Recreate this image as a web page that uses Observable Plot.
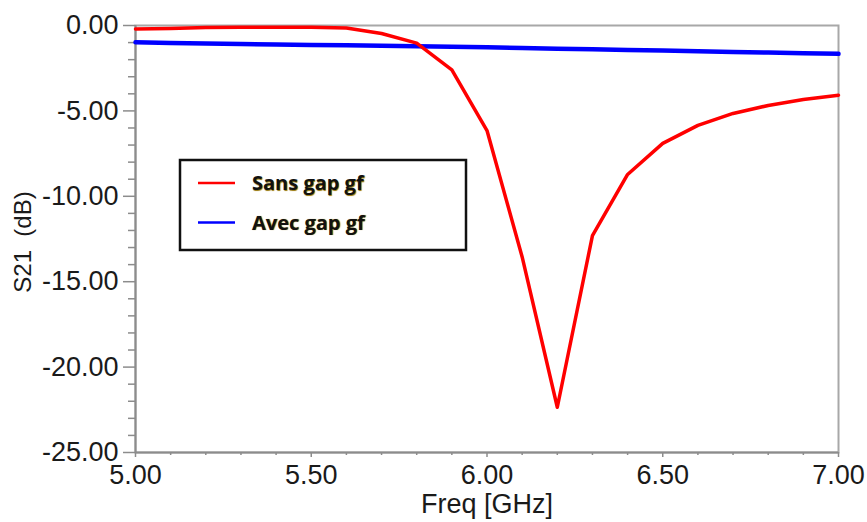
<!DOCTYPE html>
<html>
<head>
<meta charset="utf-8">
<script src="https://cdn.jsdelivr.net/npm/d3@7"></script>
<script src="https://cdn.jsdelivr.net/npm/@observablehq/plot@0.6"></script>
<style>
  html, body { margin: 0; padding: 0; background: #fff; }
  #wrap { position: relative; width: 867px; height: 522px; }
  #legend { position: absolute; left: 0; top: 0; pointer-events: none; }
</style>
</head>
<body>
<div id="wrap"></div>
<script>
// ---- data ----
const freq = [5.0, 5.1, 5.2, 5.3, 5.4, 5.5, 5.6, 5.7, 5.8, 5.9, 6.0, 6.1, 6.2, 6.3, 6.4, 6.5, 6.6, 6.7, 6.8, 6.9, 7.0];
const sansGap = [-0.2, -0.18, -0.12, -0.1, -0.1, -0.1, -0.15, -0.47, -1.03, -2.6, -6.15, -13.55, -22.35, -12.3, -8.72, -6.9, -5.85, -5.15, -4.68, -4.33, -4.08];
const avecGap = [-0.98, -1.02, -1.05, -1.08, -1.11, -1.14, -1.16, -1.18, -1.21, -1.24, -1.28, -1.32, -1.36, -1.39, -1.43, -1.47, -1.51, -1.55, -1.58, -1.62, -1.66];
const seriesNames = ["Sans gap gf", "Avec gap gf"];
const seriesColors = ["#ff0000", "#0000ff"];
const xMajorTicks = [5.0, 5.5, 6.0, 6.5, 7.0];
const yMajorTicks = [0, -5, -10, -15, -20, -25];
const xLabel = "Freq [GHz]";
const yLabel = "S21\u00a0 (dB)";

// minor tick positions (every 0.1 GHz, every 1 dB)
const xMinorTicks = d3.range(50, 71).map(d => d / 10).filter(d => !xMajorTicks.includes(d));
const yMinorTicks = d3.range(-25, 1).filter(d => !yMajorTicks.includes(d));

const sansData = freq.map((f, i) => ({f, db: sansGap[i]}));
const avecData = freq.map((f, i) => ({f, db: avecGap[i]}));

const axisColor = "#8c8c8c";
const textColor = "#1a1a1a";

const chart = Plot.plot({
  width: 867,
  height: 522,
  marginLeft: 135,
  marginTop: 25,
  marginRight: 29,
  marginBottom: 70,
  x: {domain: [5, 7]},
  y: {domain: [-25, 0]},
  style: {fontFamily: "'Liberation Sans', Arial, sans-serif", fontSize: "27px", color: textColor, background: "#fff"},
  marks: [
    Plot.frame({stroke: "#a8a8a8", strokeWidth: 2}),
    Plot.ruleX([5], {stroke: axisColor, strokeWidth: 2}),
    Plot.ruleY([-25], {stroke: axisColor, strokeWidth: 2}),
    Plot.axisX({ticks: xMinorTicks, tickSize: 3, tickFormat: () => "", stroke: axisColor, strokeWidth: 1.5, label: null}),
    Plot.axisX({ticks: xMajorTicks, tickSize: 5, tickPadding: 7, tickFormat: d => d.toFixed(2), stroke: axisColor, strokeWidth: 1.5, fontSize: 27, fill: textColor, label: null}),
    Plot.axisY({ticks: yMinorTicks, tickSize: 7, tickFormat: () => "", stroke: axisColor, strokeWidth: 1.5, label: null}),
    Plot.axisY({ticks: yMajorTicks, tickSize: 12, tickPadding: 5, tickFormat: d => d.toFixed(2), stroke: axisColor, strokeWidth: 1.5, fontSize: 27, fill: textColor, label: null}),
    Plot.line(avecData, {x: "f", y: "db", stroke: seriesColors[1], strokeWidth: 4.5}),
    Plot.line(sansData, {x: "f", y: "db", stroke: seriesColors[0], strokeWidth: 3.5}),
    Plot.text([xLabel], {frameAnchor: "bottom", dy: 60, fontSize: 27, fill: textColor}),
    Plot.text([yLabel], {frameAnchor: "left", textAnchor: "middle", dx: -112, dy: 3, rotate: -90, fontSize: 24, fill: textColor})
  ]
});

const wrap = document.getElementById("wrap");
wrap.appendChild(chart);

// legend overlay
const ns = "http://www.w3.org/2000/svg";
const leg = document.createElementNS(ns, "svg");
leg.setAttribute("id", "legend");
leg.setAttribute("width", 867);
leg.setAttribute("height", 522);
const box = document.createElementNS(ns, "rect");
box.setAttribute("x", 180); box.setAttribute("y", 160);
box.setAttribute("width", 286); box.setAttribute("height", 90);
box.setAttribute("fill", "#fff"); box.setAttribute("stroke", "#111"); box.setAttribute("stroke-width", 2.5);
leg.appendChild(box);
seriesNames.forEach((name, i) => {
  const ly = 183 + i * 39.5;
  const ln = document.createElementNS(ns, "line");
  ln.setAttribute("x1", 198); ln.setAttribute("x2", 235);
  ln.setAttribute("y1", ly); ln.setAttribute("y2", ly);
  ln.setAttribute("stroke", seriesColors[i]); ln.setAttribute("stroke-width", 2.5);
  leg.appendChild(ln);
  const t = document.createElementNS(ns, "text");
  t.setAttribute("x", 252); t.setAttribute("y", ly + 7);
  t.setAttribute("font-family", "'Open Sans', Lato, sans-serif");
  t.setAttribute("font-weight", "bold");
  t.setAttribute("font-size", 20);
  t.setAttribute("fill", "#111");
  t.setAttribute("style", "text-shadow: 0.6px 0.6px 0.8px #9a7a10;");
  t.textContent = name;
  leg.appendChild(t);
});
wrap.appendChild(leg);
</script>
</body>
</html>
